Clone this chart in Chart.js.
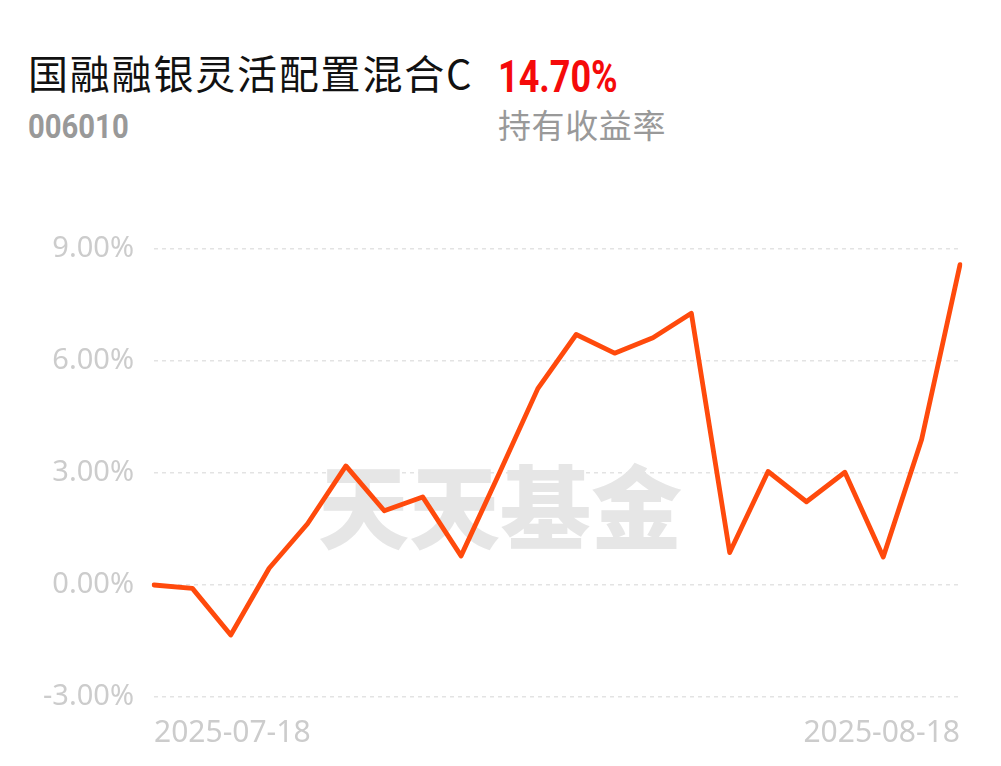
<!DOCTYPE html>
<html>
<head>
<meta charset="utf-8">
<script src="https://cdn.jsdelivr.net/npm/chart.js@4/dist/chart.umd.min.js"></script>
<style>
  html, body { margin: 0; padding: 0; background: #fff; }
  body { width: 1001px; height: 766px; position: relative; overflow: hidden; }
  .txt { position: absolute; line-height: 1; white-space: nowrap; transform-origin: left top; }
  #fundName { left: 28px; top: 43px; font: 400 40px "Noto Sans CJK SC", sans-serif; color: #111; letter-spacing: 1.8px; }
  #fundCode { left: 28px; top: 106px; font: 700 34px Roboto, sans-serif; color: #999; transform: scaleX(0.86); }
  #holdReturn { left: 498px; top: 50px; font: 700 45px Roboto, sans-serif; color: #f50a0a; transform: scaleX(0.8); }
  #holdLabel { left: 498px; top: 100px; font: 400 33px "Noto Sans CJK SC", sans-serif; color: #999; letter-spacing: 0.6px; }
  #chart { position: absolute; left: 0; top: 0; }
</style>
</head>
<body>
<div class="txt" id="fundName">国融融银灵活配置混合C</div>
<div class="txt" id="fundCode">006010</div>
<div class="txt" id="holdReturn">14.70%</div>
<div class="txt" id="holdLabel">持有收益率</div>
<canvas id="chart" width="1001" height="766"></canvas>
<script>
const dates = [
  "2025-07-18", "2025-07-21", "2025-07-22", "2025-07-23", "2025-07-24", "2025-07-25",
  "2025-07-28", "2025-07-29", "2025-07-30", "2025-07-31", "2025-08-01",
  "2025-08-04", "2025-08-05", "2025-08-06", "2025-08-07", "2025-08-08",
  "2025-08-11", "2025-08-12", "2025-08-13", "2025-08-14", "2025-08-15", "2025-08-18",
];
const returns = [
  0.00, -0.09, -1.34, 0.45, 1.64, 3.19,
  1.99, 2.36, 0.78, 3.00, 5.26,
  6.71, 6.21, 6.62, 7.28, 0.87,
  3.04, 2.23, 3.02, 0.75, 3.90, 8.58,
];
const yTickValues = [-3, 0, 3, 6, 9];
const watermarkText = "天天基金";

const LINE_COLOR = "#ff4a0c";
const LABEL_COLOR = "#cccccc";

const watermark = {
  id: "watermark",
  beforeDatasetsDraw(chart) {
    const ctx = chart.ctx;
    ctx.save();
    ctx.font = "900 91px 'Noto Sans CJK SC'";
    ctx.fillStyle = "#e6e6e6";
    ctx.textAlign = "center";
    ctx.textBaseline = "middle";
    ctx.fillText(watermarkText, 500, 507);
    ctx.restore();
  },
};

new Chart(document.getElementById("chart"), {
  type: "line",
  data: {
    labels: dates,
    datasets: [{
      data: returns,
      borderColor: LINE_COLOR,
      borderWidth: 4.8,
      tension: 0,
      pointRadius: 0,
      borderJoinStyle: "round",
      borderCapStyle: "round",
      fill: false,
    }],
  },
  options: {
    responsive: false,
    animation: false,
    events: [],
    layout: { padding: { left: 0, right: 41, top: 249, bottom: 0 } },
    plugins: { legend: { display: false }, tooltip: { enabled: false } },
    scales: {
      x: {
        grid: { display: false, drawTicks: false },
        border: { display: false },
        afterFit: (s) => { s.height = 69; },
        ticks: {
          autoSkip: false,
          maxRotation: 0,
          align: "inner",
          padding: 18,
          color: LABEL_COLOR,
          font: { family: "Noto Sans", size: 30 },
          callback: (v, i) => (i === 0 || i === dates.length - 1 ? dates[i] : ""),
        },
      },
      y: {
        min: yTickValues[0],
        max: yTickValues[yTickValues.length - 1],
        afterBuildTicks: (s) => { s.ticks = yTickValues.map((v) => ({ value: v })); },
        afterFit: (s) => { s.width = 154; },
        grid: { color: "#e3e3e3", lineWidth: 1.5, drawTicks: false },
        border: { display: false, dash: [4, 4] },
        ticks: {
          padding: 20,
          color: LABEL_COLOR,
          font: { family: "Noto Sans", size: 29 },
          callback: (v) => v.toFixed(2) + "%",
        },
      },
    },
  },
  plugins: [watermark],
});
</script>
</body>
</html>
